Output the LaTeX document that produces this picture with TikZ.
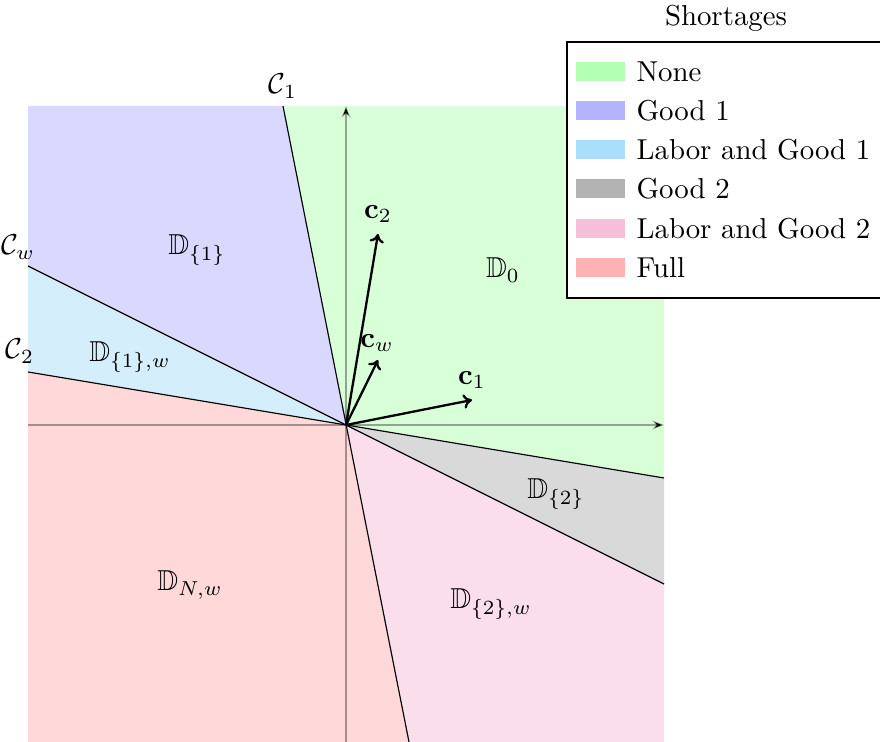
\documentclass[tikz,border=0pt]{standalone}
\usepackage{amsmath,amssymb}
\usetikzlibrary{arrows.meta}
\definecolor{cNone}{RGB}{179,255,179}
\definecolor{cGoodA}{RGB}{179,179,255}
\definecolor{cLabA}{RGB}{170,222,250}
\definecolor{cGoodB}{RGB}{179,179,179}
\definecolor{cLabB}{RGB}{246,190,216}
\definecolor{cFull}{RGB}{255,179,179}
\tikzset{
  region/.style={fill opacity=0.5, draw=none},
  bound/.style={draw=black, line width=0.4pt},
  axisline/.style={draw=black, draw opacity=0.35, line width=0.5pt, -{Stealth[length=4pt,width=3pt]}},
  vec/.style={draw=black, line width=0.8pt, -{To[length=3pt,width=5pt]}},
  swatch/.style={draw=none, minimum width=49*0.347pt, minimum height=19*0.347pt, inner sep=0pt},
  legtext/.style={anchor=west, inner sep=0pt},
}
\begin{document}
\begin{tikzpicture}[x=0.347pt, y=-0.347pt]
\useasboundingbox (0,0) rectangle (880,742);
% key points
\coordinate (O) at (346,425);
\coordinate (C1t) at (283,106);
\coordinate (C1b) at (409,742);
\coordinate (Cwl) at (28,266);
\coordinate (Cwr) at (664,584);
\coordinate (C2l) at (28,372);
\coordinate (C2r) at (664,478);
\coordinate (TL) at (28,106);
\coordinate (TR) at (664,106);
\coordinate (BL) at (28,742);
\coordinate (BR) at (664,742);
% regions
\fill[region, fill=cNone] (O) -- (C1t) -- (TR) -- (C2r) -- cycle;
\fill[region, fill=cGoodA] (O) -- (Cwl) -- (TL) -- (C1t) -- cycle;
\fill[region, fill=cLabA] (O) -- (C2l) -- (Cwl) -- cycle;
\fill[region, fill=cFull] (O) -- (C1b) -- (BL) -- (C2l) -- cycle;
\fill[region, fill=cLabB] (O) -- (Cwr) -- (BR) -- (C1b) -- cycle;
\fill[region, fill=cGoodB] (O) -- (C2r) -- (Cwr) -- cycle;
% axes
\coordinate (XL) at (28,425);
\coordinate (XR) at (664,425);
\coordinate (YB) at (346,742);
\coordinate (YT) at (346,106);
\draw[axisline] (XL) -- (XR);
\draw[axisline] (YB) -- (YT);
% boundaries
\draw[bound] (C1t) -- (C1b);
\draw[bound] (Cwl) -- (Cwr);
\draw[bound] (C2l) -- (C2r);
% vectors
\coordinate (V2) at (378,234);
\coordinate (Vw) at (378,360);
\coordinate (V1) at (472,400);
\draw[vec] (O) -- (V2);
\draw[vec] (O) -- (Vw);
\draw[vec] (O) -- (V1);
\node (lc2) at (378,214) {$\mathbf{c}_2$};
\node (lcw) at (377,343) {$\mathbf{c}_w$};
\node (lc1) at (472,380) {$\mathbf{c}_1$};
% boundary labels
\node (lC1) at (283,86) {$\mathcal{C}_1$};
\node (lCw) at (18,247) {$\mathcal{C}_w$};
\node (lC2) at (20,351) {$\mathcal{C}_2$};
% region labels
\node (lD1) at (197,250) {$\mathbb{D}_{\{1\}}$};
\node (lD1w) at (130,357) {$\mathbb{D}_{\{1\},w}$};
\node (lD0) at (503,270) {$\mathbb{D}_0$};
\node (lD2) at (556,494) {$\mathbb{D}_{\{2\}}$};
\node (lD2w) at (491,604) {$\mathbb{D}_{\{2\},w}$};
\node (lDN) at (190,585) {$\mathbb{D}_{N,w}$};
% legend
\node (ltitle) at (726,18) {Shortages};
\coordinate (LgA) at (567,42);
\coordinate (LgB) at (900,298);
\draw[fill=white, line width=0.4pt] (LgA) rectangle (LgB);
\foreach \y/\c/\t [count=\i] in {72/cNone/None, 111/cGoodA/Good 1, 150/cLabA/Labor and Good 1, 189/cGoodB/Good 2, 229/cLabB/Labor and Good 2, 268/cFull/Full}{
  \node[swatch, fill=\c] (sw\i) at (600.5,\y) {};
  \node[legtext] (lt\i) at (636,\y) {\t};
}
\end{tikzpicture}
\end{document}
